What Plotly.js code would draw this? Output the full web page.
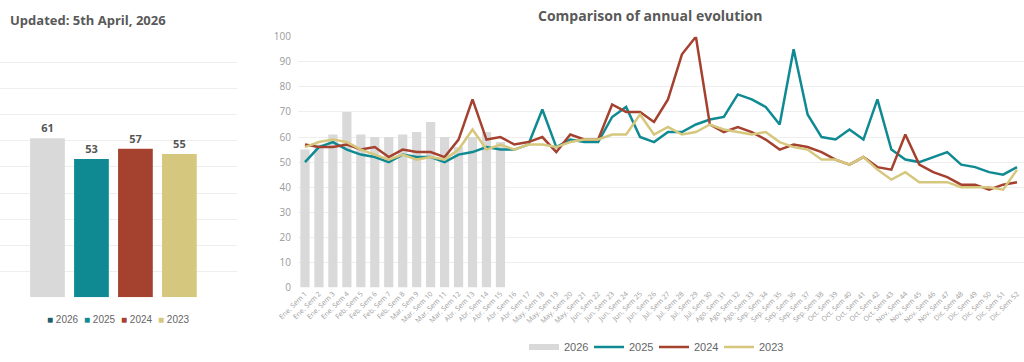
<!DOCTYPE html>
<html>
<head>
<meta charset="utf-8">
<script src="https://cdn.plot.ly/plotly-3.0.1.min.js"></script>
<style>
html,body{margin:0;padding:0;background:#fff;}
#chart{width:1024px;height:362px;}
</style>
</head>
<body>
<div id="chart"></div>
<script>
// ---- Data ----
const weekLabels = [
  "Ene. Sem 1","Ene. Sem 2","Ene. Sem 3","Ene. Sem 4",
  "Feb. Sem 5","Feb. Sem 6","Feb. Sem 7","Feb. Sem 8",
  "Mar. Sem 9","Mar. Sem 10","Mar. Sem 11","Mar. Sem 12",
  "Abr. Sem 13","Abr. Sem 14","Abr. Sem 15","Abr. Sem 16","Abr. Sem 17",
  "May. Sem 18","May. Sem 19","May. Sem 20","May. Sem 21",
  "Jun. Sem 22","Jun. Sem 23","Jun. Sem 24","Jun. Sem 25","Jun. Sem 26",
  "Jul. Sem 27","Jul. Sem 28","Jul. Sem 29","Jul. Sem 30",
  "Ago. Sem 31","Ago. Sem 32","Ago. Sem 33",
  "Sep. Sem 34","Sep. Sem 35","Sep. Sem 36","Sep. Sem 37","Sep. Sem 38",
  "Oct. Sem 39","Oct. Sem 40","Oct. Sem 41","Oct. Sem 42","Oct. Sem 43",
  "Nov. Sem 44","Nov. Sem 45","Nov. Sem 46","Nov. Sem 47",
  "Dic. Sem 48","Dic. Sem 49","Dic. Sem 50","Dic. Sem 51","Dic. Sem 52"
];

const values2026 = [55,57,61,70,61,60,60,61,62,66,60,56,60,62,58];

const values2025 = [50,56,58,55,53,52,50,53,52,52,50,53,54,56,55,
  55,57,71,56,59,58,58,68,72,60,58,62,62,65,67,68,77,75,72,65,95,69,60,59,63,59,75,55,51,50,52,54,49,48,46,45,48];

const values2024 = [57,56,56,57,55,56,52,55,54,54,52,59,75,59,60,
  57,58,60,54,61,59,59,73,70,70,66,75,93,100,65,62,64,62,59,55,57,56,54,51,49,52,48,47,61,49,46,44,41,41,39,41,42];

const values2023 = [56,58,59,58,55,53,51,53,51,52,51,55,63,55,57,
  55,57,57,56,58,59,59,61,61,69,61,64,61,62,65,63,62,61,62,58,56,55,51,51,49,52,47,43,46,42,42,42,40,40,40,39,47];

const years = ["2026","2025","2024","2023"];
const averages = [61,53,57,55];

// ---- Styles ----
const colors = {"2026":"#d9d9d9","2025":"#0f8a93","2024":"#a5412f","2023":"#d6c77e"};
const legendSquare = {"2026":"#1f5d6c","2025":"#0f8a93","2024":"#a5412f","2023":"#d6c77e"};
const W = 1024, H = 362;
const py = v => (H - v) / H;   // pixel y -> paper y
const px = v => v / W;          // pixel x -> paper x

const traces = [];

// Left: averages bar chart
traces.push({
  type: "bar",
  x: years,
  y: averages,
  xaxis: "x", yaxis: "y",
  marker: {color: years.map(y => colors[y])},
  width: 0.79,
  text: averages.map(String),
  textposition: "outside",
  cliponaxis: false,
  textfont: {family: "Open Sans, sans-serif", size: 11, color: "#555555", weight: 700},
  showlegend: false,
  hoverinfo: "x+y"
});

// Right: weekly comparison
traces.push({
  type: "bar",
  x: weekLabels.slice(0, values2026.length),
  y: values2026,
  xaxis: "x2", yaxis: "y2",
  marker: {color: colors["2026"]},
  width: 0.66,
  name: "2026",
  showlegend: false
});
// legend stand-in for the 2026 bars (thick grey swatch)
traces.push({
  type: "scatter", mode: "lines",
  x: [null], y: [null],
  xaxis: "x2", yaxis: "y2",
  line: {color: colors["2026"], width: 6},
  name: "2026", hoverinfo: "skip"
});
[["2025", values2025], ["2024", values2024], ["2023", values2023]].forEach(([name, vals]) => {
  traces.push({
    type: "scatter", mode: "lines",
    x: weekLabels, y: vals,
    xaxis: "x2", yaxis: "y2",
    line: {color: colors[name], width: 2.5},
    name: name
  });
});

const annotations = [
  {text: "<b>Updated: 5th April, 2026</b>", xref: "paper", yref: "paper",
   x: px(8), y: py(20), xanchor: "left", yanchor: "middle", showarrow: false,
   font: {family: "Open Sans, sans-serif", size: 13, color: "#595959"}},
  {text: "<b>Comparison of annual evolution</b>", xref: "paper", yref: "paper",
   x: px(650), y: py(16), xanchor: "center", yanchor: "middle", showarrow: false,
   font: {family: "Open Sans, sans-serif", size: 14, color: "#595959"}}
];
// Left legend (compact squares)
const leftLegendX = [45, 82, 119, 156];
years.forEach((y, i) => {
  annotations.push({
    text: '<span style="color:' + legendSquare[y] + '">■</span> ' + y,
    xref: "paper", yref: "paper", x: px(leftLegendX[i]), y: py(321),
    xanchor: "left", yanchor: "middle", showarrow: false,
    font: {family: "Liberation Sans, Arial, sans-serif", size: 10, color: "#666666"}
  });
});

const layout = {
  width: W, height: H,
  margin: {l: 0, r: 0, t: 0, b: 0},
  paper_bgcolor: "#ffffff", plot_bgcolor: "#ffffff",
  showlegend: true,
  legend: {
    orientation: "h", x: px(654), xanchor: "center", y: py(349), yanchor: "middle",
    font: {family: "Liberation Sans, Arial, sans-serif", size: 11, color: "#666666"},
    itemwidth: 30, entrywidth: 20, entrywidthmode: "pixels",
    bgcolor: "rgba(0,0,0,0)"
  },
  xaxis: {
    domain: [0, px(237)], anchor: "y", type: "category",
    range: [-1.08, 4.31], showticklabels: false, showgrid: false,
    zeroline: false, showline: false, fixedrange: true
  },
  yaxis: {
    domain: [py(299), py(36.7)], anchor: "x", range: [0, 100], dtick: 10,
    showticklabels: false, gridcolor: "#eeeeee", gridwidth: 1,
    zeroline: false, showline: false, fixedrange: true
  },
  xaxis2: {
    domain: [px(298), 1], anchor: "y2", type: "category",
    range: [-0.5, 51.5], tickangle: -45, showgrid: false, zeroline: false,
    showline: false, ticks: "",
    tickfont: {family: "Open Sans, sans-serif", size: 7, color: "#9c9c9c"}
  },
  yaxis2: {
    domain: [py(289), py(37)], anchor: "x2", range: [0, 100], dtick: 10,
    gridcolor: "#eeeeee", gridwidth: 1, zeroline: false, showline: false,
    ticks: "", ticklabelstandoff: 6,
    tickfont: {family: "Open Sans, sans-serif", size: 10, color: "#9a9a9a"}
  },
  annotations: annotations,
  bargap: 0.2
};

Plotly.newPlot("chart", traces, layout, {displayModeBar: false, staticPlot: true});
</script>
</body>
</html>
